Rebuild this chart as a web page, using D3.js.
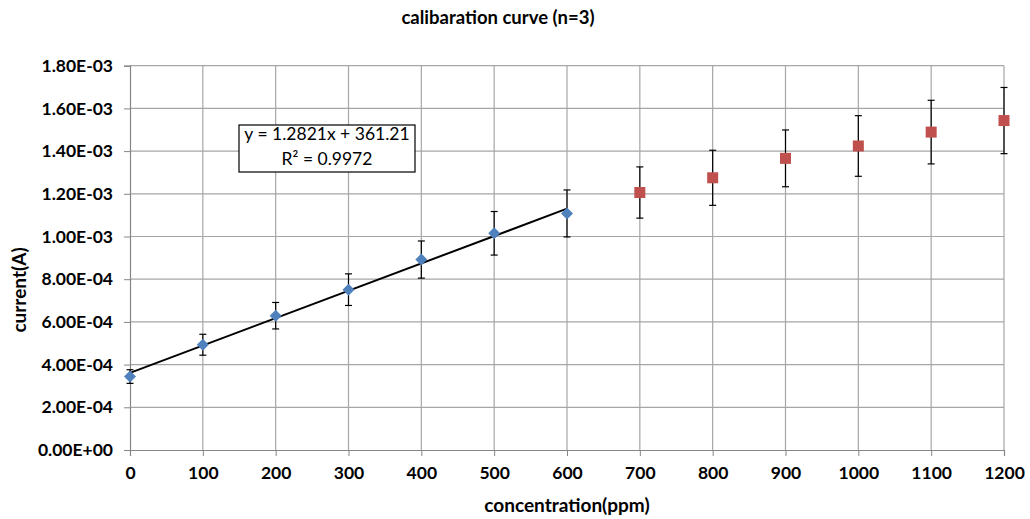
<!DOCTYPE html>
<html><head><meta charset="utf-8">
<script src="https://cdn.jsdelivr.net/npm/d3@7"></script>
<style>body{margin:0;background:#fff;} svg{display:block;}</style>
</head><body>
<svg id="chart" width="1030" height="519"></svg>
<script>
// Data
const blueX = [0, 100, 200, 300, 400, 500, 600];
const blueY = [3.44e-4, 4.93e-4, 6.29e-4, 7.51e-4, 8.92e-4, 1.015e-3, 1.108e-3];
const blueErr = [0.32e-4, 0.49e-4, 0.62e-4, 0.74e-4, 0.87e-4, 1.02e-4, 1.10e-4];
const redX = [700, 800, 900, 1000, 1100, 1200];
const redY = [1.206e-3, 1.275e-3, 1.366e-3, 1.424e-3, 1.489e-3, 1.543e-3];
const redErr = [1.20e-4, 1.29e-4, 1.33e-4, 1.42e-4, 1.49e-4, 1.55e-4];
const xTicks = [0,100,200,300,400,500,600,700,800,900,1000,1100,1200];
const yTicks = [0,2e-4,4e-4,6e-4,8e-4,1e-3,1.2e-3,1.4e-3,1.6e-3,1.8e-3];
const yTickLabels = ["0.00E+00","2.00E-04","4.00E-04","6.00E-04","8.00E-04","1.00E-03","1.20E-03","1.40E-03","1.60E-03","1.80E-03"];
const trendSlope = 1.2821e-6, trendIntercept = 361.21e-6; // per ppm, A
const trendRange = [0, 600];
const eqLines = ["y = 1.2821x + 361.21", "R² = 0.9972"];

const svg = d3.select("#chart");
const x = d3.scaleLinear().domain([0,1200]).range([130,1004]);
const y = d3.scaleLinear().domain([0,1.8e-3]).range([450,65.7]);
const font = "Lato, 'Open Sans', sans-serif";

// gridlines
svg.append("g").selectAll("line").data(yTicks.slice(1)).join("line")
  .attr("x1",130).attr("x2",1004).attr("y1",d=>y(d)).attr("y2",d=>y(d))
  .attr("stroke","#a6a6a6").attr("stroke-width",1.2);
svg.append("g").selectAll("line").data(xTicks.slice(1)).join("line")
  .attr("y1",y(0)).attr("y2",y(1.8e-3)).attr("x1",d=>x(d)).attr("x2",d=>x(d))
  .attr("stroke","#a6a6a6").attr("stroke-width",1.2);

// axes
const yAxis = d3.axisLeft(y).tickValues(yTicks).tickSize(6).tickPadding(11)
  .tickFormat((d,i)=>yTickLabels[i]);
const gy = svg.append("g").attr("transform","translate(130,0)").call(yAxis);
gy.select(".domain").attr("stroke","#868686").attr("stroke-width",1.2);
gy.selectAll(".tick line").attr("stroke","#868686");
gy.selectAll("text").attr("font-family",font).attr("font-weight","bold").attr("font-size","17.5px").attr("fill","#000");

const xAxis = d3.axisBottom(x).tickValues(xTicks).tickSize(6).tickPadding(11).tickFormat(d3.format("d"));
const gx = svg.append("g").attr("transform","translate(0,450)").call(xAxis);
gx.select(".domain").attr("stroke","#868686").attr("stroke-width",1.2);
gx.selectAll(".tick line").attr("stroke","#868686");
gx.selectAll("text").attr("font-family",font).attr("font-weight","bold").attr("font-size","17.5px").attr("fill","#000");

// trendline
svg.append("line")
  .attr("x1",x(trendRange[0])).attr("y1",y(trendSlope*trendRange[0]+trendIntercept))
  .attr("x2",x(trendRange[1])).attr("y2",y(trendSlope*trendRange[1]+trendIntercept))
  .attr("stroke","#000").attr("stroke-width",2);

function errBars(xs, ys, es){
  const g = svg.append("g").attr("stroke","#000").attr("stroke-width",1.2);
  xs.forEach((xv,i)=>{
    const cx = x(xv), t = y(ys[i]+es[i]), b = y(ys[i]-es[i]);
    g.append("line").attr("x1",cx).attr("x2",cx).attr("y1",t).attr("y2",b);
    g.append("line").attr("x1",cx-3.5).attr("x2",cx+3.5).attr("y1",t).attr("y2",t);
    g.append("line").attr("x1",cx-3.5).attr("x2",cx+3.5).attr("y1",b).attr("y2",b);
  });
}
errBars(blueX, blueY, blueErr);
errBars(redX, redY, redErr);

// markers
svg.append("g").selectAll("path").data(blueX).join("path")
  .attr("d","M0,-6L6,0L0,6L-6,0Z")
  .attr("transform",(d,i)=>`translate(${x(d)},${y(blueY[i])})`)
  .attr("fill","#4F81BD");
svg.append("g").selectAll("rect").data(redX).join("rect")
  .attr("x",(d)=>x(d)-5.5).attr("y",(d,i)=>y(redY[i])-5.5)
  .attr("width",11).attr("height",11).attr("fill","#C0504D");

// equation box
svg.append("rect").attr("x",239).attr("y",125).attr("width",176).attr("height",47)
  .attr("fill","#fff").attr("stroke","#000").attr("stroke-width",1.2);
svg.append("text").attr("x",327).attr("y",140).attr("text-anchor","middle")
  .attr("font-family",font).attr("font-size","17.5px").attr("fill","#000").text(eqLines[0]);
svg.append("text").attr("x",327).attr("y",165).attr("text-anchor","middle")
  .attr("font-family",font).attr("font-size","17.5px").attr("fill","#000").text(eqLines[1]);

// titles
svg.append("text").attr("x",498).attr("y",24).attr("text-anchor","middle")
  .attr("font-family",font).attr("font-weight","bold").attr("font-size","18.5px").text("calibaration curve (n=3)");
svg.append("text").attr("x",567).attr("y",512).attr("text-anchor","middle")
  .attr("font-family",font).attr("font-weight","bold").attr("font-size","19px").text("concentration(ppm)");
svg.append("text").attr("transform","translate(26,290) rotate(-90)").attr("text-anchor","middle")
  .attr("font-family",font).attr("font-weight","bold").attr("font-size","19px").text("current(A)");
</script>
</body></html>
